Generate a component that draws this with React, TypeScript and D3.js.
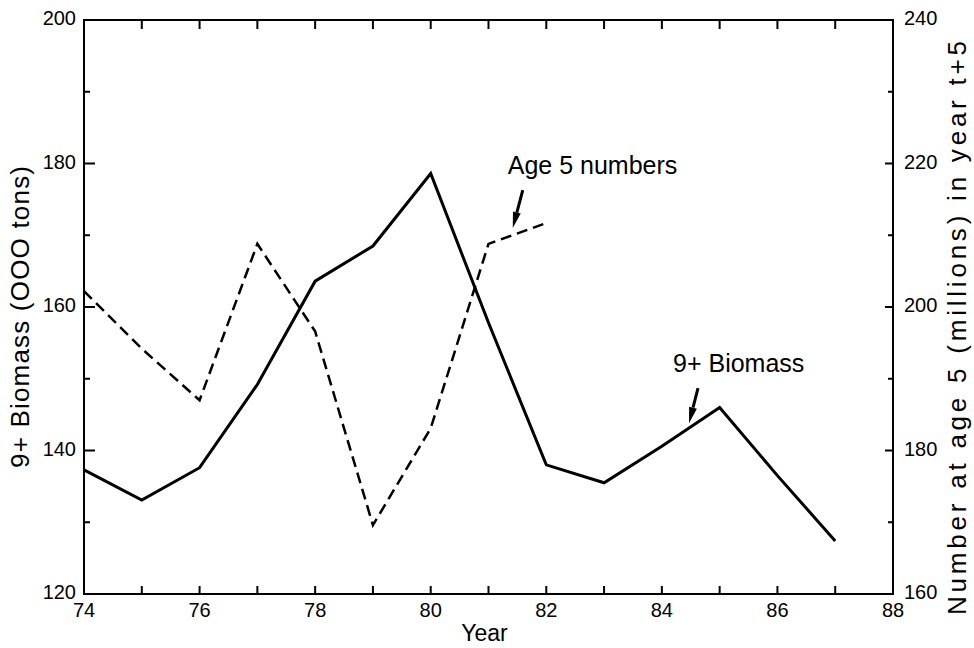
import React from "react";
import * as d3 from "d3";

// Years on the x axis
const years = [74, 75, 76, 77, 78, 79, 80, 81, 82, 83, 84, 85, 86, 87];
// 9+ biomass, thousand tons (left axis)
const biomass = [137.3, 133.1, 137.6, 149.2, 163.6, 168.5, 178.6, 157.8, 138.0, 135.5, 140.6, 146.0, 136.5, 127.4];
// Number at age 5 in year t+5, millions (right axis)
const age5Years = [74, 75, 76, 77, 78, 79, 80, 81, 82];
const age5 = [202.2, 194.2, 187.0, 208.8, 196.6, 169.6, 183.1, 208.8, 211.7];

const xTicks = d3.range(74, 89, 1);
const xLabels = [74, 76, 78, 80, 82, 84, 86, 88];
const leftTicks = d3.range(120, 201, 10);
const leftLabels = [120, 140, 160, 180, 200];
const rightTicks = d3.range(160, 241, 10);
const rightLabels = [160, 180, 200, 220, 240];

const W = 974;
const H = 648;
const M = { left: 84, right: 893, top: 20, bottom: 594 };
const FONT = "'Liberation Sans', Arial, Helvetica, sans-serif";

function Arrow({ x, y, dx, dy }: { x: number; y: number; dx: number; dy: number }) {
  // shaft from (x+dx, y+dy) to tip (x, y) with a slim filled head
  const len = Math.hypot(dx, dy);
  const ux = -dx / len;
  const uy = -dy / len;
  const headL = 16;
  const headW = 4;
  const bx = x - ux * headL;
  const by = y - uy * headL;
  const px = -uy;
  const py = ux;
  return (
    <g>
      <line x1={x + dx} y1={y + dy} x2={bx} y2={by} stroke="#000" strokeWidth={3} />
      <polygon
        points={`${x},${y} ${bx + px * headW},${by + py * headW} ${bx - px * headW},${by - py * headW}`}
        fill="#000"
      />
    </g>
  );
}

export default function App() {
  const x = d3.scaleLinear().domain([74, 88]).range([M.left, M.right]);
  const yL = d3.scaleLinear().domain([120, 200]).range([M.bottom, M.top]);
  const yR = d3.scaleLinear().domain([160, 240]).range([M.bottom, M.top]);

  const bioLine = d3
    .line<number>()
    .x((_, i) => x(years[i]))
    .y((d) => yL(d));
  const ageLine = d3
    .line<number>()
    .x((_, i) => x(age5Years[i]))
    .y((d) => yR(d));

  // annotation anchors placed in data space
  const ageTip = { x: x(81.42), y: yR(211.0) };
  const bioTip = { x: x(84.47), y: yL(143.8) };

  return (
    <svg
      width={W}
      height={H}
      style={{ position: "absolute", left: 0, top: 0, background: "#fff" }}
      fontFamily={FONT}
    >
      <rect width={W} height={H} fill="#fff" />

      {/* frame */}
      <rect
        x={M.left}
        y={M.top}
        width={M.right - M.left}
        height={M.bottom - M.top}
        fill="none"
        stroke="#000"
        strokeWidth={2}
      />

      {/* x ticks, bottom and top, pointing inward */}
      {xTicks.map((t) => (
        <g key={`xt${t}`}>
          <line x1={x(t)} x2={x(t)} y1={M.bottom} y2={M.bottom - 8} stroke="#000" strokeWidth={2} />
          <line x1={x(t)} x2={x(t)} y1={M.top} y2={M.top + 9} stroke="#000" strokeWidth={2} />
        </g>
      ))}
      {xLabels.map((t) => (
        <text key={`xl${t}`} x={x(t)} y={M.bottom + 23} fontSize={20} textAnchor="middle" fill="#000">
          {t}
        </text>
      ))}

      {/* left axis ticks */}
      {leftTicks.map((t) => (
        <line
          key={`lt${t}`}
          x1={M.left}
          x2={M.left + (leftLabels.includes(t) ? 11 : 6)}
          y1={yL(t)}
          y2={yL(t)}
          stroke="#000"
          strokeWidth={2}
        />
      ))}
      {leftLabels.map((t) => (
        <text
          key={`ll${t}`}
          x={M.left - 8}
          y={yL(t) + 5}
          fontSize={20}
          textAnchor="end"
          fill="#000"
        >
          {t}
        </text>
      ))}

      {/* right axis ticks */}
      {rightTicks.map((t) => (
        <line
          key={`rt${t}`}
          x1={M.right}
          x2={M.right - (rightLabels.includes(t) ? 8 : 5)}
          y1={yR(t)}
          y2={yR(t)}
          stroke="#000"
          strokeWidth={2}
        />
      ))}
      {rightLabels.map((t) => (
        <text key={`rl${t}`} x={M.right + 11} y={yR(t) + 5} fontSize={20} textAnchor="start" fill="#000">
          {t}
        </text>
      ))}

      {/* axis titles */}
      <text x={(M.left + M.right) / 2 - 4} y={641} fontSize={23} textAnchor="middle" fill="#000">
        Year
      </text>
      <text
        transform={`translate(29, 317) rotate(-90)`}
        fontSize={26}
        textAnchor="middle"
        fill="#000"
        textLength={302}
        lengthAdjust="spacing"
      >
        9+ Biomass (OOO tons)
      </text>
      <text
        transform={`translate(966, 328) rotate(-90)`}
        fontSize={26}
        textAnchor="middle"
        fill="#000"
        textLength={574}
        lengthAdjust="spacing"
      >
        Number at age 5 (millions) in year t+5
      </text>

      {/* series */}
      <path d={ageLine(age5) ?? ""} fill="none" stroke="#000" strokeWidth={2.5} strokeDasharray="11,6" />
      <path d={bioLine(biomass) ?? ""} fill="none" stroke="#000" strokeWidth={3} strokeLinejoin="miter" />

      {/* annotations */}
      <text x={ageTip.x - 5} y={ageTip.y - 54} fontSize={25} fill="#000">
        Age 5 numbers
      </text>
      <Arrow x={ageTip.x} y={ageTip.y} dx={10} dy={-38} />

      <text x={bioTip.x - 16} y={bioTip.y - 51} fontSize={25} fill="#000">
        9+ Biomass
      </text>
      <Arrow x={bioTip.x} y={bioTip.y} dx={9} dy={-35} />
    </svg>
  );
}
